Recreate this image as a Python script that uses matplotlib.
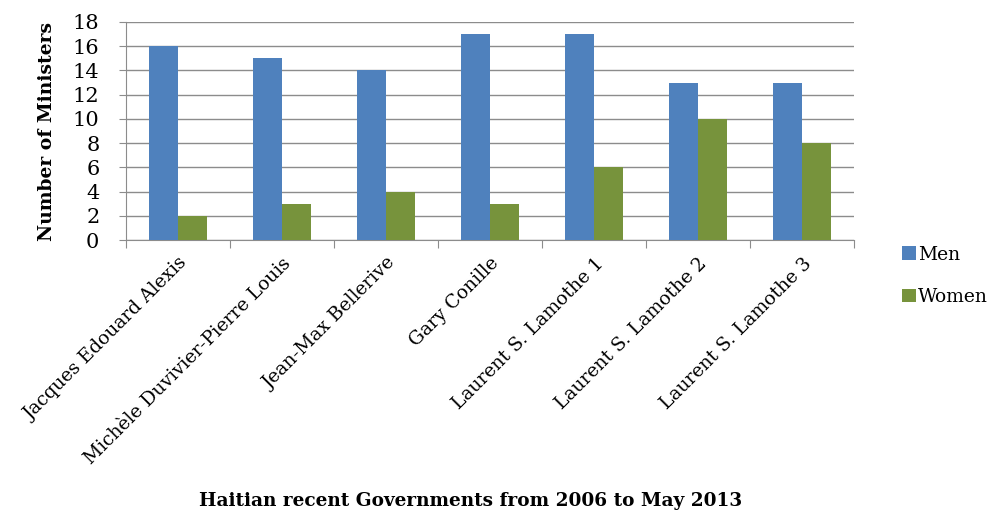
import numpy as np
import matplotlib.pyplot as plt

governments = ['Jacques Edouard Alexis', 'Michèle Duvivier-Pierre Louis',
               'Jean-Max Bellerive', 'Gary Conille', 'Laurent S. Lamothe 1',
               'Laurent S. Lamothe 2', 'Laurent S. Lamothe 3']
men = [16, 15, 14, 17, 17, 13, 13]
women = [2, 3, 4, 3, 6, 10, 8]

plt.rcParams['font.family'] = ['DejaVu Serif']

fig = plt.figure(figsize=(9.91, 5.2), dpi=100)
ax = fig.add_axes([0.127, 0.538, 0.735, 0.42])

x = np.arange(len(governments))
w = 0.28
ax.bar(x - w / 2, men, w, color='#4F81BD', label='Men', zorder=3)
ax.bar(x + w / 2, women, w, color='#77933C', label='Women', zorder=3)

ax.set_xlim(-0.5, len(governments) - 0.5)
ax.set_ylim(0, 18)
ax.set_yticks(range(0, 19, 2))
ax.tick_params(axis='y', labelsize=15, length=5, color='#8c8c8c', pad=14)
ax.yaxis.grid(True, color='#8c8c8c', linewidth=1, zorder=0)

ax.set_xticks(np.arange(-0.5, len(governments), 1), minor=False)
ax.set_xticklabels([])
ax.set_xticks(x, minor=True)
ax.set_xticklabels(governments, minor=True, rotation=45, ha='right',
                   rotation_mode='anchor', fontsize=13.5)
ax.tick_params(axis='x', which='major', length=6, color='#8c8c8c')
ax.tick_params(axis='x', which='minor', length=0, pad=10)

for s in ['top', 'right']:
    ax.spines[s].set_visible(False)
for s in ['left', 'bottom']:
    ax.spines[s].set_color('#8c8c8c')

ax.set_ylabel('Number of Ministers', fontsize=13.5, fontweight='bold', labelpad=12)
fig.text(0.475, 0.02, 'Haitian recent Governments from 2006 to May 2013',
         ha='center', va='bottom', fontsize=13.3, fontweight='bold')

fig.legend(loc='upper left', bbox_to_anchor=(0.893, 0.56), frameon=False,
           fontsize=13.5, handlelength=0.75, handleheight=0.75,
           handletextpad=0.1, labelspacing=1.3)

fig.savefig('out.png', dpi=100)
